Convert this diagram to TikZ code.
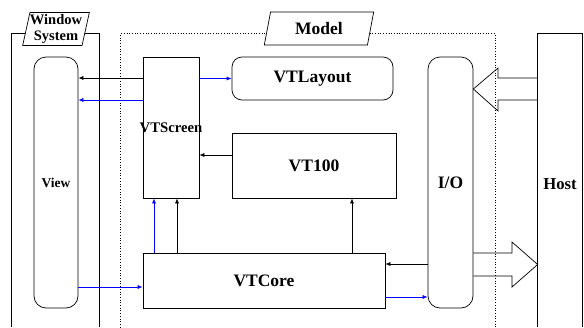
\documentclass[tikz,border=0pt]{standalone}
\usepackage{fontspec}
\setmainfont{Liberation Serif}
\usetikzlibrary{shapes.geometric, arrows.meta}

\tikzset{
  blk/.style={draw, inner sep=0pt, font=\fontsize{17.5}{20}\selectfont\bfseries},
  rblk/.style={blk, rounded corners=12pt},
  frame/.style={inner sep=0pt, minimum height=293pt},
  tag/.style={draw, fill=white, trapezium, trapezium left angle=76, trapezium right angle=104,
    trapezium stretches=true, inner sep=0pt, minimum height=33pt},
  arr/.style={-{Latex[length=5pt,width=4pt]}},
  barr/.style={arr, blue},
}

\begin{document}
\begin{tikzpicture}[x=1pt, y=-1pt, line width=0.7pt]
		\useasboundingbox (0,0) rectangle (584,327);
		%%%%%%%%%%%%%
		\node[frame, minimum width=87pt] (win) at (55.5,180.5) {};
		\node[frame, minimum width=374pt] (model) at (308,180.5) {};
		\node[frame, minimum width=44pt, font=\fontsize{16.7}{20}\selectfont\bfseries] (host) at (560,180.5) {\raisebox{-9pt}[0pt][0pt]{Host}};
		\draw (win.south west) -- (win.north west) -- (win.north east) -- (win.south east);
		\draw [dotted] (model.south west) -- (model.north west) -- (model.north east) -- (model.south east);
		\draw (host.south west) -- (host.north west) -- (host.north east) -- (host.south east);
		\node[tag, minimum width=66pt, align=center, font=\fontsize{14.5}{16}\selectfont\bfseries] (winlbl) at (56,29) {Window\\System};
		\node[tag, minimum width=110pt, font=\fontsize{17.5}{20}\selectfont\bfseries] (modellbl) at (319,28.5) {Model};
		%%%%%%%%%%%%%
		\node[rblk, minimum width=44pt, minimum height=251pt, font=\fontsize{13.5}{16}\selectfont\bfseries] (view) at (56,182.5) {View};
		\node[blk, minimum width=56pt, minimum height=141pt, font=\fontsize{14.7}{17}\selectfont\bfseries] (vtscr) at (171,127.5) {\makebox[0pt]{VTScreen}};
		\node[rblk, rounded corners=10pt, minimum width=161pt, minimum height=43pt] (vtlay) at (312.5,78.5) {VTLayout};
		\node[blk, minimum width=164pt, minimum height=65pt] (vt100) at (314,165.5) {VT100};
		\node[blk, minimum width=242pt, minimum height=55pt] (vtcore) at (264,280.5) {VTCore};
		\node[rblk, minimum width=45pt, minimum height=251pt] (io) at (450.5,182.5) {I/O};
		%%%%%%%%%%%%%
		\draw [arr] (vtscr.west |- 0,78) -- (view.east |- 0,78);
		\draw [barr] (vtscr.west |- 0,100) -- (view.east |- 0,100);
		\draw [barr] (vtscr.east |- vtlay.west) -- (vtlay.west);
		\draw [arr] (vt100.west |- 0,155) -- (vtscr.east |- 0,155);
		\draw [barr] (vtcore.north -| 154,0) -- (vtscr.south -| 154,0);
		\draw [arr] (vtcore.north -| 177,0) -- (vtscr.south -| 177,0);
		\draw [arr] (vtcore.north -| 352,0) -- (vt100.south -| 352,0);
		\draw [barr] (view.east |- 0,287) -- (vtcore.west |- 0,287);
		\draw [arr] (io.west |- 0,264) -- (vtcore.east |- 0,264);
		\draw [barr] (vtcore.east |- 0,297) -- (io.west |- 0,297);
		%%%%%%%%%%%%%
		\draw (host.west |- 0,78) -- (498,78) -- (498,68) -- (io.east |- 0,89) -- (498,111) -- (498,100) -- (host.west |- 0,100);
		\draw (io.east |- 0,253) -- (512,253) -- (512,242) -- (host.west |- 0,264.5) -- (512,287) -- (512,276) -- (io.east |- 0,276);
\end{tikzpicture}
\end{document}
